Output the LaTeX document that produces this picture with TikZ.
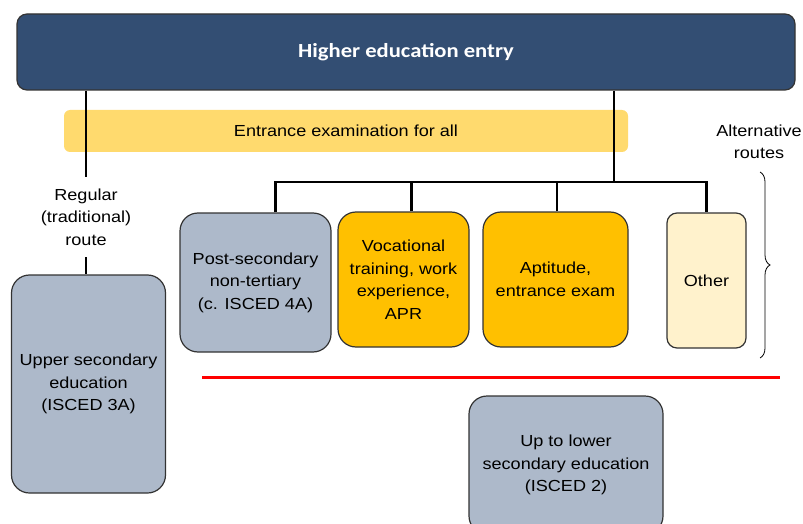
\documentclass[tikz,border=0pt]{standalone}
\usepackage{fontspec}
\setmainfont[FakeStretch=1.13]{Liberation Sans}
\newfontfamily\titlefont[FakeStretch=1.13]{Carlito}
\usetikzlibrary{decorations.pathreplacing}
\definecolor{entryblue}{HTML}{334E73}
\definecolor{examgold}{HTML}{FFDA6E}
\definecolor{routegold}{HTML}{FFC000}
\definecolor{routegray}{HTML}{ADB9CA}
\definecolor{routecream}{HTML}{FFF2CC}

\begin{document}
\begin{tikzpicture}[x=1pt,y=-1pt]
\tikzstyle{every node}=[font=\fontsize{16}{22.5}\selectfont, align=center, inner sep=0pt]
\tikzstyle{edubox}=[draw=black!80, line width=1.2pt, rounded corners=18pt]
\tikzstyle{link}=[line width=2.2pt]
\clip (0,0) rectangle (803,524);
\node[edubox, fill=entryblue, rounded corners=10pt, minimum width=778pt, minimum height=76pt, text=white, font=\titlefont\bfseries\fontsize{20}{24}\selectfont] (entry) at (406,52) {Higher education entry};
\node[fill=examgold, rounded corners=6pt, minimum width=564pt, minimum height=42pt] (exam) at (346,131) {Entrance examination for all};
\node[minimum height=80pt] (route) at (86,217) {Regular\\(traditional)\\route};
\node[edubox, fill=routegray, minimum width=154pt, minimum height=218pt] (usec) at (88.5,384) {Upper secondary\\education\\(ISCED 3A)};
\node[edubox, fill=routegray, minimum width=151pt, minimum height=139pt] (postsec) at (255.5,282.5) {Post-secondary\\non-tertiary\\(c. ISCED 4A)};
\node[edubox, fill=routegold, minimum width=131pt, minimum height=135pt] (voc) at (403.5,279.5) {Vocational\\training, work\\experience,\\APR};
\node[edubox, fill=routegold, minimum width=145pt, minimum height=135pt] (apt) at (555.5,279.5) {Aptitude,\\entrance exam};
\node[edubox, fill=routecream, rounded corners=10pt, minimum width=79pt, minimum height=135pt] (other) at (706.5,280.5) {Other};
\node[edubox, fill=routegray, minimum width=194pt, minimum height=138pt] (lsec) at (566,465) {Up to lower\\secondary education\\(ISCED 2)};
\node (alt) at (759,142) {Alternative\\routes};
\coordinate (split) at (614,182);
\coordinate (bt) at (760,172);
\coordinate (bb) at (760,358);
\draw[link] (entry.south -| route) -- (route.north);
\draw[link] (route.south) -- (route.south |- usec.north);
\draw[link] (entry.south -| split) -- (split);
\draw[link] ([xshift=20pt]postsec.north) |- (split) -| (other.north);
\draw[link] ([xshift=8pt]voc.north) -- ([xshift=8pt]voc.north |- split);
\draw[link] ([xshift=1.5pt]apt.north) -- ([xshift=1.5pt]apt.north |- split);
\draw[decorate, decoration={brace, amplitude=10pt}, line width=0.8pt] (bt) -- (bb);
\draw[red, line width=3pt] (202,377) -- (780,377);
\end{tikzpicture}
\end{document}
